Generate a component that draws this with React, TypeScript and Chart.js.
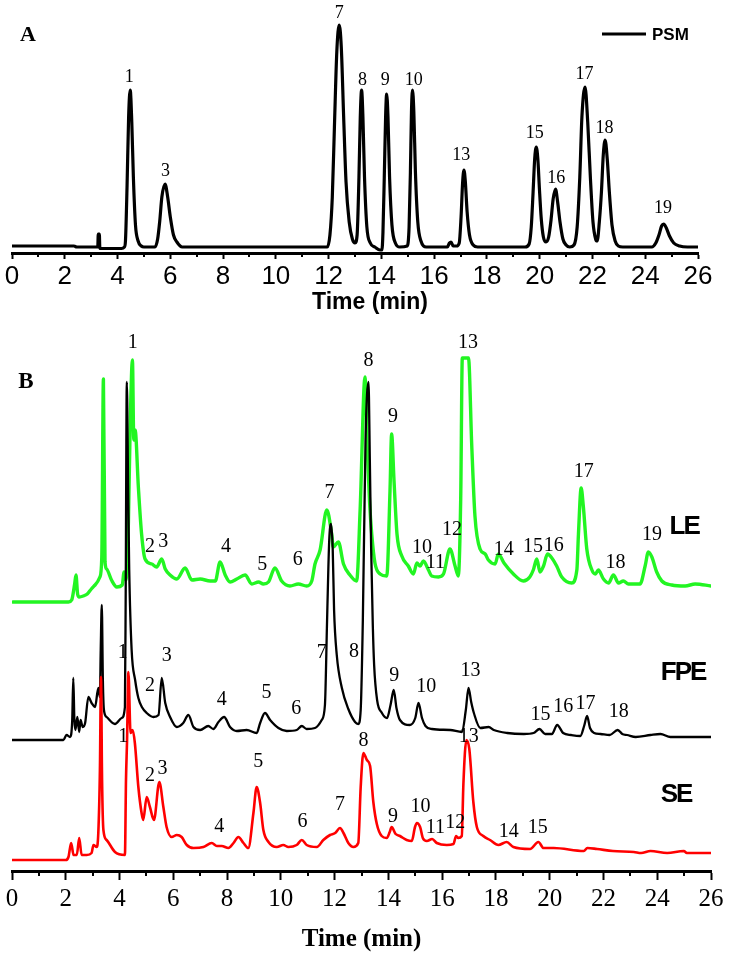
import React, { useEffect, useRef } from 'react';
import { Chart, registerables } from 'chart.js';

Chart.register(...registerables);

type Pt = [number, number];
type Lbl = [string, number, number];

// ---------- shared axis ----------
const TIME_MIN = 0;
const TIME_MAX = 26;

// ---------- Panel A : PSM (signal above its baseline, a.u.) ----------
const PSM_BASE = 6;
const PSM: Pt[] = [
  [0, 1], [2.35, 1], [2.45, 0], [3.25, 0], [3.27, 13], [3.31, 13], [3.33, -1.5], [4.15, -1.5], [4.26, 0],
  [4.3, 6], [4.36, 60], [4.42, 130], [4.48, 157], [4.54, 125], [4.6, 70], [4.68, 22], [4.78, 6], [4.9, 1], [5.0, 0],
  [5.42, 0], [5.52, 8], [5.6, 26], [5.68, 50], [5.8, 63], [5.9, 50], [6.0, 30], [6.12, 12], [6.25, 5], [6.45, 0],
  [11.95, 0], [12.05, 12], [12.14, 50], [12.22, 120], [12.31, 195], [12.4, 222], [12.48, 200], [12.57, 130], [12.66, 65],
  [12.78, 25], [12.9, 8], [13.0, 4],
  [13.08, 12], [13.15, 70], [13.2, 130], [13.25, 157], [13.3, 130], [13.36, 70], [13.45, 20], [13.58, 4], [13.75, 0],
  [13.95, -3], [14.02, -3],
  [14.06, 15], [14.11, 70], [14.16, 130], [14.2, 153], [14.25, 130], [14.31, 70], [14.4, 22], [14.53, 4], [14.7, 0],
  [14.98, 1], [15.05, 20], [15.1, 75], [15.14, 135], [15.18, 157], [15.23, 135], [15.29, 75], [15.38, 25], [15.5, 6], [15.7, 0],
  [16.5, 0], [16.58, 4], [16.64, 5], [16.72, 1], [16.85, 1],
  [16.95, 4], [17.02, 30], [17.08, 65], [17.13, 77], [17.18, 66], [17.25, 35], [17.34, 12], [17.48, 2], [17.65, 0],
  [19.45, 0], [19.6, 3], [19.68, 20], [19.75, 55], [19.81, 88], [19.87, 100], [19.93, 88], [19.99, 58], [20.06, 28],
  [20.14, 10], [20.24, 5],
  [20.34, 10], [20.43, 27], [20.51, 48], [20.6, 58], [20.68, 45], [20.77, 25], [20.88, 8], [21.0, 2], [21.14, 0],
  [21.3, 2], [21.42, 20], [21.52, 70], [21.6, 130], [21.72, 160], [21.82, 125], [21.92, 70], [22.02, 25], [22.12, 8], [22.18, 6],
  [22.26, 25], [22.34, 55], [22.41, 92], [22.48, 107], [22.56, 88], [22.64, 55], [22.74, 22], [22.86, 6], [22.98, 1], [23.15, 0],
  [24.25, 0], [24.4, 4], [24.52, 12], [24.62, 21], [24.7, 23], [24.8, 19], [24.92, 11], [25.08, 4], [25.3, 1], [25.6, 0], [26, 0],
];
const PSM_LABELS: Lbl[] = [
  ['1', 4.44, 176], ['3', 5.82, 82], ['7', 12.4, 240], ['8', 13.28, 173], ['9', 14.15, 173], ['10', 15.23, 173],
  ['13', 17.03, 98], ['15', 19.81, 120], ['16', 20.63, 75], ['17', 21.7, 179], ['18', 22.46, 125], ['19', 24.67, 45],
];

// ---------- Panel B : extracts (signal above each baseline, a.u.) ----------
const LE_BASE = 269;
const FPE_BASE = 131;
const SE_BASE = 11;

const LE: Pt[] = [
  [0.04, 0], [2.1, 0], [2.22, 2], [2.33, 18], [2.38, 27], [2.44, 8], [2.5, 5], [2.65, 6], [2.8, 8], [2.95, 13], [3.09, 17],
  [3.27, 25], [3.34, 45], [3.4, 223], [3.46, 40], [3.52, 33], [3.7, 22], [3.9, 15], [4.1, 17], [4.17, 30], [4.24, 22],
  [4.33, 80], [4.39, 168], [4.48, 242], [4.53, 162], [4.58, 172], [4.7, 115], [4.82, 68], [4.95, 43], [5.2, 38], [5.38, 35],
  [5.57, 43], [5.7, 33], [5.88, 27], [6.13, 23], [6.44, 34], [6.69, 22], [7.0, 23], [7.37, 21], [7.56, 21], [7.74, 40],
  [7.93, 27], [8.11, 20], [8.36, 23], [8.67, 27], [8.92, 18], [9.17, 20], [9.35, 18], [9.54, 20], [9.78, 34], [10.03, 21],
  [10.34, 16], [10.65, 18], [10.96, 16], [11.15, 21], [11.27, 38], [11.46, 52], [11.71, 92], [11.89, 68], [11.95, 55],
  [12.14, 60], [12.33, 38], [12.57, 27], [12.82, 21], [12.95, 93], [13.13, 225], [13.22, 150], [13.3, 100], [13.38, 68],
  [13.5, 39], [13.69, 28], [13.94, 26], [14.06, 111], [14.12, 168], [14.21, 121], [14.32, 68], [14.5, 46], [14.74, 36],
  [14.93, 28], [15.06, 39], [15.18, 36], [15.3, 41], [15.49, 32], [15.61, 26], [15.86, 25], [16.05, 28], [16.29, 53],
  [16.48, 36], [16.6, 26], [16.69, 103], [16.75, 244], [16.98, 244], [17.1, 157], [17.22, 86], [17.41, 53], [17.6, 48],
  [17.72, 42], [17.97, 38], [18.09, 48], [18.3, 39], [18.65, 28], [19.02, 21], [19.26, 25], [19.39, 32], [19.52, 43],
  [19.64, 30], [19.77, 36], [19.92, 48], [20.08, 44], [20.26, 36], [20.45, 25], [20.82, 19], [21.01, 32], [21.07, 68],
  [21.17, 114], [21.25, 96], [21.38, 53], [21.57, 32], [21.7, 28], [21.81, 32], [22.0, 23], [22.19, 19], [22.37, 27],
  [22.56, 19], [22.74, 21], [22.93, 18], [23.36, 18], [23.55, 36], [23.67, 50], [23.8, 45], [23.98, 30], [24.17, 21],
  [24.54, 17], [25.04, 16], [25.41, 18], [26.0, 16],
];
const FPE: Pt[] = [
  [0.0, 0], [1.91, 0], [2.03, 5], [2.16, 3], [2.24, 20], [2.28, 62], [2.32, 20], [2.36, 10], [2.43, 23], [2.5, 8],
  [2.55, 20], [2.63, 13], [2.72, 17], [2.84, 43], [2.96, 37], [3.09, 33], [3.21, 52], [3.27, 43], [3.3, 90], [3.34, 135],
  [3.38, 60], [3.42, 30], [3.52, 23], [3.83, 16], [4.08, 22], [4.2, 33], [4.23, 150], [4.27, 358], [4.32, 250], [4.36, 170],
  [4.45, 90], [4.58, 60], [4.7, 42], [4.83, 33], [5.01, 27], [5.26, 23], [5.45, 25], [5.57, 62], [5.7, 37], [5.88, 23],
  [6.13, 13], [6.37, 17], [6.56, 25], [6.75, 13], [7.0, 10], [7.3, 14], [7.49, 11], [7.68, 18], [7.89, 23], [8.11, 13],
  [8.36, 9], [8.73, 10], [9.1, 7], [9.23, 17], [9.41, 27], [9.6, 20], [9.91, 12], [10.22, 9], [10.59, 10], [10.78, 14],
  [10.96, 11], [11.27, 12], [11.52, 20], [11.64, 35], [11.72, 120], [11.8, 200], [11.87, 216], [11.93, 190], [11.98, 130],
  [12.08, 85], [12.27, 52], [12.51, 31], [12.76, 18], [12.88, 16], [12.97, 30], [13.05, 120], [13.15, 300], [13.26, 358],
  [13.31, 280], [13.36, 190], [13.42, 115], [13.47, 75], [13.58, 40], [13.76, 27], [13.95, 22], [14.08, 35], [14.2, 50],
  [14.3, 32], [14.43, 20], [14.8, 15], [15.0, 22], [15.12, 37], [15.25, 22], [15.38, 14], [15.62, 11], [16.3, 10],
  [16.74, 8], [16.88, 30], [16.98, 52], [17.08, 38], [17.18, 27], [17.42, 12], [17.73, 13], [17.92, 10], [18.42, 7],
  [19.04, 6], [19.4, 7], [19.62, 11], [19.83, 6], [20.08, 6], [20.28, 15], [20.5, 7], [20.8, 5], [21.14, 4], [21.28, 14],
  [21.39, 24], [21.5, 12], [21.65, 7], [21.89, 6], [22.23, 5], [22.53, 10], [22.7, 6], [22.88, 5], [23.2, 3], [23.75, 5],
  [24.12, 6], [24.49, 3], [25.0, 3], [26.04, 3],
];
const SE: Pt[] = [
  [0.0, 0], [2.0, 0], [2.1, 3], [2.2, 17], [2.29, 5], [2.41, 5], [2.5, 22], [2.59, 5], [2.78, 5], [2.96, 7], [3.03, 15],
  [3.15, 13], [3.21, 27], [3.27, 90], [3.31, 183], [3.35, 80], [3.4, 30], [3.52, 20], [3.83, 8], [4.2, 5], [4.24, 80],
  [4.28, 120], [4.33, 188], [4.41, 127], [4.49, 130], [4.57, 117], [4.7, 73], [4.82, 47], [4.88, 40], [5.01, 63],
  [5.13, 53], [5.28, 40], [5.48, 78], [5.63, 53], [5.75, 33], [5.94, 23], [6.13, 25], [6.31, 23], [6.5, 15], [6.75, 12],
  [7.12, 13], [7.43, 17], [7.62, 14], [7.8, 14], [8.05, 12], [8.24, 17], [8.42, 23], [8.61, 17], [8.79, 12], [8.98, 47],
  [9.1, 73], [9.23, 57], [9.35, 30], [9.54, 18], [9.85, 13], [10.09, 15], [10.28, 13], [10.59, 15], [10.78, 20],
  [10.96, 15], [11.34, 13], [11.58, 20], [11.83, 25], [12.02, 27], [12.2, 32], [12.33, 27], [12.51, 17], [12.7, 13],
  [12.88, 17], [12.97, 73], [13.07, 107], [13.2, 100], [13.32, 94], [13.44, 58], [13.57, 36], [13.75, 24], [13.94, 22],
  [14.05, 28], [14.12, 33], [14.27, 26], [14.43, 24], [14.68, 20], [14.87, 19], [14.99, 33], [15.06, 37], [15.18, 33],
  [15.28, 22], [15.43, 19], [15.63, 21], [15.8, 17], [16.17, 15], [16.42, 16], [16.52, 24], [16.6, 22], [16.73, 24],
  [16.79, 76], [16.9, 120], [17.01, 111], [17.16, 58], [17.29, 33], [17.53, 24], [17.78, 20], [18.09, 15], [18.4, 18],
  [18.65, 13], [19.27, 11], [19.58, 18], [19.77, 12], [20.15, 12], [21.27, 9], [21.4, 12], [21.76, 11], [22.35, 9],
  [23.13, 8], [23.4, 7], [23.75, 9], [24.37, 7], [24.99, 9], [25.1, 7], [26.04, 7],
];

const LE_LABELS: Lbl[] = [
  ['1', 4.49, 528], ['2', 5.13, 324], ['3', 5.63, 329], ['4', 7.96, 324], ['5', 9.31, 306], ['6', 10.63, 311],
  ['7', 11.81, 378], ['8', 13.26, 510], ['9', 14.17, 454], ['10', 15.25, 323], ['11', 15.75, 308], ['12', 16.37, 341],
  ['13', 16.96, 528], ['14', 18.29, 321], ['15', 19.38, 324], ['16', 20.15, 325], ['17', 21.27, 399], ['18', 22.45, 308],
  ['19', 23.81, 336],
];
const FPE_LABELS: Lbl[] = [
  ['1', 4.12, 218], ['2', 5.13, 185], ['3', 5.76, 215], ['4', 7.8, 171], ['5', 9.47, 178], ['6', 10.57, 162],
  ['7', 11.52, 218], ['8', 12.72, 219], ['9', 14.22, 195], ['10', 15.41, 184], ['13', 17.05, 200], ['15', 19.66, 156],
  ['16', 20.5, 164], ['17', 21.33, 167], ['18', 22.57, 159],
];
const SE_LABELS: Lbl[] = [
  ['1', 4.14, 134], ['2', 5.13, 95], ['3', 5.6, 102], ['4', 7.71, 44], ['5', 9.16, 109], ['6', 10.81, 49],
  ['7', 12.2, 66], ['8', 13.07, 130], ['9', 14.17, 54], ['10', 15.19, 64], ['11', 15.75, 43], ['12', 16.49, 48],
  ['13', 16.99, 134], ['14', 18.48, 39], ['15', 19.56, 43],
];
const TRACE_NAMES: Lbl[] = [['LE', 25.0, 344], ['FPE', 24.96, 198], ['SE', 24.7, 76]];

// ---------- styles ----------
const GREEN = '#22f522';
const RED = '#ff0000';
const BLACK = '#000000';

const toData = (pts: Pt[], base: number) => pts.map(([x, y]) => ({ x, y: y + base }));

function drawLabels(chart: any, items: Lbl[], font: string, color: string, spacing = '0px') {
  const ctx = chart.ctx;
  const xs = chart.scales.x;
  const ys = chart.scales.y;
  ctx.save();
  ctx.font = font;
  ctx.fillStyle = color;
  ctx.textAlign = 'center';
  ctx.textBaseline = 'middle';
  try { (ctx as any).letterSpacing = spacing; } catch (e) { /* ignore */ }
  items.forEach(([t, x, y]) => ctx.fillText(t, xs.getPixelForValue(x), ys.getPixelForValue(y)));
  ctx.restore();
}

function minorTicksPlugin(len: number, width: number) {
  return {
    id: 'minorTicks',
    afterDraw(chart: any) {
      const xs = chart.scales.x;
      const ctx = chart.ctx;
      ctx.save();
      ctx.strokeStyle = BLACK;
      ctx.lineWidth = width;
      for (let v = TIME_MIN + 1; v < TIME_MAX; v += 2) {
        const px = Math.round(xs.getPixelForValue(v));
        ctx.beginPath();
        ctx.moveTo(px, xs.top);
        ctx.lineTo(px, xs.top + len);
        ctx.stroke();
      }
      ctx.restore();
    },
  };
}

function xAxis(opts: { font: any; tickLen: number; pad: number; height: number; title: any }) {
  return {
    type: 'linear',
    min: TIME_MIN,
    max: TIME_MAX,
    border: { display: true, color: BLACK, width: 3 },
    grid: {
      drawOnChartArea: false,
      drawTicks: true,
      tickLength: opts.tickLen,
      tickWidth: 2,
      tickColor: (c: any) => (c.tick && Math.round(c.tick.value) % 2 === 0 ? BLACK : 'rgba(0,0,0,0)'),
    },
    ticks: {
      stepSize: 1,
      autoSkip: false,
      maxRotation: 0,
      padding: opts.pad,
      color: BLACK,
      font: opts.font,
      callback: (v: any) => (Math.round(v) % 2 === 0 ? String(v) : ''),
    },
    title: opts.title,
    afterFit: (s: any) => { s.height = opts.height; },
  };
}

export default function App() {
  const refA = useRef<HTMLCanvasElement | null>(null);
  const refB = useRef<HTMLCanvasElement | null>(null);

  useEffect(() => {
    document.body.style.margin = '0';
    const lineDs = (label: string, pts: Pt[], base: number, color: string, w: number) => ({
      label,
      data: toData(pts, base),
      borderColor: color,
      backgroundColor: color,
      borderWidth: w,
      pointRadius: 0,
      fill: false,
      cubicInterpolationMode: 'monotone',
      borderJoinStyle: 'round',
      borderCapStyle: 'round',
    });

    const chartA = new Chart(refA.current as HTMLCanvasElement, {
      type: 'line',
      data: { datasets: [lineDs('PSM', PSM, PSM_BASE, BLACK, 3.2) as any] },
      options: {
        animation: false,
        responsive: false,
        devicePixelRatio: 1,
        parsing: false,
        layout: { padding: { left: 12, right: 36, top: 7, bottom: 0 } },
        plugins: { legend: { display: false }, tooltip: { enabled: false } },
        scales: {
          x: xAxis({
            font: { family: 'Liberation Sans, Arial, sans-serif', size: 26 },
            tickLen: 6, pad: 2, height: 65,
            title: { display: false },
          }) as any,
          y: { type: 'linear', display: false, min: 0, max: 246 },
        },
      },
      plugins: [
        minorTicksPlugin(4, 2),
        {
          id: 'labelsA',
          afterDraw(chart: any) {
            drawLabels(chart, PSM_LABELS, '18px "Liberation Serif", "Times New Roman", serif', BLACK);
            const ctx = chart.ctx;
            ctx.save();
            ctx.fillStyle = BLACK;
            ctx.font = 'bold 22px "Liberation Serif", serif';
            ctx.textAlign = 'center';
            ctx.textBaseline = 'middle';
            ctx.fillText('A', 28, 35);
            ctx.font = 'bold 23px "Liberation Sans", Arial, sans-serif';
            ctx.fillText('Time (min)', 370, 303);
            ctx.strokeStyle = BLACK;
            ctx.lineWidth = 3;
            ctx.beginPath();
            ctx.moveTo(602, 34);
            ctx.lineTo(646, 34);
            ctx.stroke();
            ctx.font = 'bold 17px "Liberation Sans", Arial, sans-serif';
            ctx.textAlign = 'left';
            ctx.fillText('PSM', 652, 35);
            ctx.restore();
          },
        },
      ],
    } as any);

    const chartB = new Chart(refB.current as HTMLCanvasElement, {
      type: 'line',
      data: {
        datasets: [
          lineDs('SE', SE, SE_BASE, RED, 2.6) as any,
          lineDs('FPE', FPE, FPE_BASE, BLACK, 2.3) as any,
          lineDs('LE', LE, LE_BASE, GREEN, 3.4) as any,
        ],
      },
      options: {
        animation: false,
        responsive: false,
        devicePixelRatio: 1,
        parsing: false,
        layout: { padding: { left: 12, right: 23, top: 12, bottom: 0 } },
        plugins: { legend: { display: false }, tooltip: { enabled: false } },
        scales: {
          x: xAxis({
            font: { family: 'Liberation Serif, Times New Roman, serif', size: 25 },
            tickLen: 9, pad: 4, height: 89,
            title: {
              display: true, text: 'Time (min)', color: BLACK,
              font: { family: 'Liberation Serif, Times New Roman, serif', size: 25, weight: 'bold' },
              padding: { top: 0, bottom: 5 },
            },
          }) as any,
          y: { type: 'linear', display: false, min: 0, max: 541 },
        },
      },
      plugins: [
        minorTicksPlugin(5, 2),
        {
          id: 'labelsB',
          afterDatasetsDraw(chart: any) {
            const f = '20px "Liberation Serif", "Times New Roman", serif';
            drawLabels(chart, LE_LABELS, f, BLACK);
            drawLabels(chart, FPE_LABELS, f, BLACK);
            drawLabels(chart, SE_LABELS, f, BLACK);
            drawLabels(chart, TRACE_NAMES, 'bold 26px "Liberation Sans", Arial, sans-serif', BLACK, '-2px');
            const ctx = chart.ctx;
            ctx.save();
            ctx.fillStyle = BLACK;
            ctx.font = 'bold 23px "Liberation Serif", serif';
            ctx.textAlign = 'center';
            ctx.textBaseline = 'middle';
            ctx.fillText('B', 26, 64);
            ctx.restore();
          },
        },
      ],
    } as any);

    return () => {
      chartA.destroy();
      chartB.destroy();
    };
  }, []);

  return (
    <div style={{ position: 'relative', width: 734, height: 960, background: '#fff' }}>
      <canvas ref={refA} width={734} height={318} style={{ position: 'absolute', left: 0, top: 0 }} />
      <canvas ref={refB} width={734} height={642} style={{ position: 'absolute', left: 0, top: 318 }} />
    </div>
  );
}
